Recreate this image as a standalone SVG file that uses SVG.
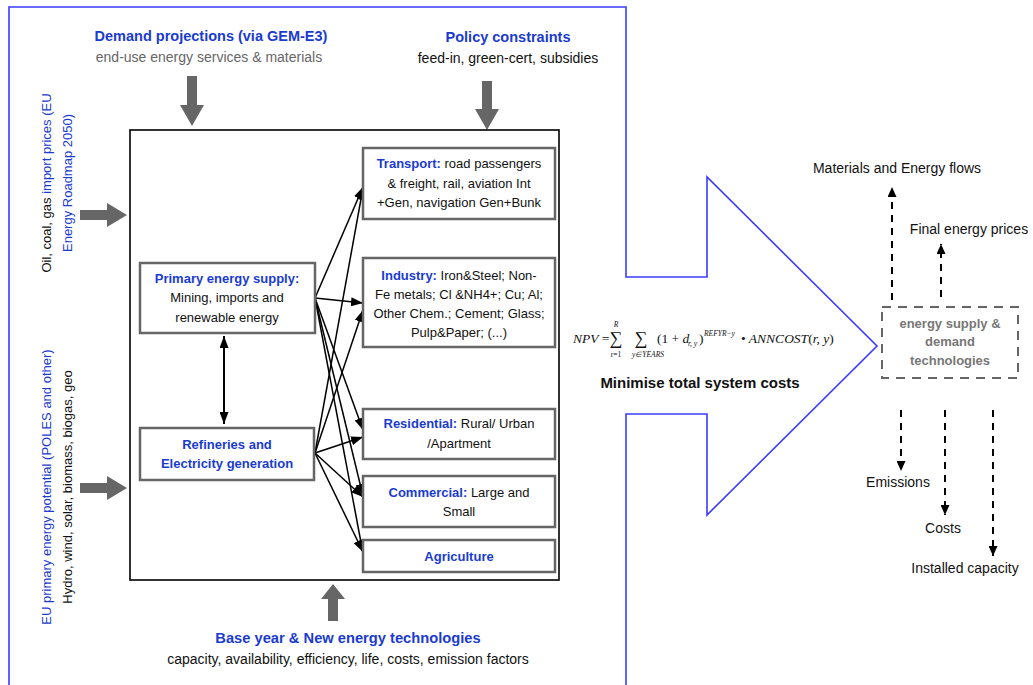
<svg xmlns="http://www.w3.org/2000/svg" width="1033" height="685" viewBox="0 0 1033 685">
<style>
text{font-family:"Liberation Sans",Arial,sans-serif;fill:#111}
.b{font-weight:bold;fill:#1a3bd0}
.t{font-size:13px;text-anchor:middle}
.box{fill:#fff;stroke:#666;stroke-width:2.5}
.ga{fill:#666}
.con{stroke:#000;stroke-width:1.5;fill:none;marker-end:url(#ah)}
.dash{stroke:#000;stroke-width:2;fill:none;stroke-dasharray:7 6;marker-end:url(#dh)}
.m{font-family:"Liberation Serif","Times New Roman",serif;font-style:italic;font-size:13.5px}
.ms{font-family:"Liberation Serif","Times New Roman",serif;font-style:italic;font-size:7.5px}
.sig{font-family:"Liberation Serif","Times New Roman",serif;font-size:18px;text-anchor:middle}
</style>
<defs>
<marker id="ah" markerWidth="12" markerHeight="9" refX="12" refY="4.5" orient="auto" markerUnits="userSpaceOnUse"><path d="M0,0 L12,4.5 L0,9 Z" fill="#000"/></marker>
<marker id="ahs" markerWidth="12" markerHeight="9" refX="0" refY="4.5" orient="auto" markerUnits="userSpaceOnUse"><path d="M12,0 L0,4.5 L12,9 Z" fill="#000"/></marker>
<marker id="dh" markerWidth="10" markerHeight="9" refX="10" refY="4.5" orient="auto" markerUnits="userSpaceOnUse"><path d="M0,0 L10,4.5 L0,9 Z" fill="#000"/></marker>
</defs>

<g id="frame">
<path d="M9,700 L9,7 L626,7 L626,277 L707,277 L707,177 L877,346 L707,515 L707,414 L626,414 L626,700" fill="none" stroke="#3b3bff" stroke-width="1.6"/>
</g>

<g id="inputs">
<text x="211" y="41" class="b" style="font-size:14.5px;text-anchor:middle">Demand projections (via GEM-E3)</text>
<text x="209" y="62" style="font-size:14px;text-anchor:middle;fill:#666">end-use energy services &amp; materials</text>
<text x="508" y="42" class="b" style="font-size:14.5px;text-anchor:middle">Policy constraints</text>
<text x="508" y="63" style="font-size:14px;text-anchor:middle">feed-in, green-cert, subsidies</text>
<text transform="translate(51,183) rotate(-90)" style="font-size:13px;text-anchor:middle">Oil, coal, gas <tspan style="fill:#1a3bd0">import prices (EU</tspan></text>
<text transform="translate(72,183) rotate(-90)" style="font-size:13px;text-anchor:middle;fill:#1a3bd0">Energy Roadmap 2050)</text>
<text transform="translate(51,487) rotate(-90)" style="font-size:13px;text-anchor:middle;fill:#1a3bd0">EU primary energy potential (POLES and other)</text>
<text transform="translate(72,487) rotate(-90)" style="font-size:13px;text-anchor:middle">Hydro, wind, solar, biomass, biogas, geo</text>
<text x="348" y="643" class="b" style="font-size:14.7px;text-anchor:middle">Base year &amp; New energy technologies</text>
<text x="348" y="664" style="font-size:14px;text-anchor:middle">capacity, availability, efficiency, life, costs, emission factors</text>
</g>

<g id="block-arrows">
<path class="ga" d="M187,76 L197,76 L197,105 L204,105 L192,126 L180,105 L187,105 Z"/>
<path class="ga" d="M482,81 L492,81 L492,109 L499,109 L487,130 L475,109 L482,109 Z"/>
<path class="ga" d="M80,210 L107,210 L107,203 L127,215 L107,227 L107,220 L80,220 Z"/>
<path class="ga" d="M80,483 L107,483 L107,476 L127,488 L107,500 L107,493 L80,493 Z"/>
<path class="ga" d="M328,621 L338,621 L338,599 L345,599 L333,584 L321,599 L328,599 Z"/>
</g>

<g id="model-box"><rect x="130" y="130" width="429" height="450" fill="#fff" stroke="#000" stroke-width="1.6"/></g>

<g id="connectors">
<path class="con" d="M315,298 L363,187"/>
<path class="con" d="M315,298 L363,303"/>
<path class="con" d="M315,298 L363,430"/>
<path class="con" d="M315,298 L363,496"/>
<path class="con" d="M315,298 L363,553"/>
<path class="con" d="M315,453 L363,188"/>
<path class="con" d="M315,453 L363,310"/>
<path class="con" d="M315,453 L363,437"/>
<path class="con" d="M315,453 L363,497"/>
<path class="con" d="M315,453 L363,552"/>
<path d="M224,336 L224,424" stroke="#000" stroke-width="2" fill="none" marker-start="url(#ahs)" marker-end="url(#ah)"/>
</g>

<g id="transport"><rect class="box" x="363" y="148" width="192" height="71"/>
<text class="t" x="459" y="168"><tspan class="b">Transport:</tspan> road passengers</text>
<text class="t" x="459" y="188">&amp; freight, rail, aviation Int</text>
<text class="t" x="459" y="207">+Gen, navigation Gen+Bunk</text></g>

<g id="industry"><rect class="box" x="363" y="258" width="192" height="89"/>
<text class="t" x="459" y="280"><tspan class="b">Industry:</tspan> Iron&amp;Steel; Non-</text>
<text class="t" x="459" y="299">Fe metals; Cl &amp;NH4+;  Cu; Al;</text>
<text class="t" x="459" y="318">Other  Chem.; Cement; Glass;</text>
<text class="t" x="459" y="337">Pulp&amp;Paper;  (...)</text></g>

<g id="primary"><rect class="box" x="140" y="263" width="175" height="70"/>
<text class="t b" x="227" y="283">Primary energy supply:</text>
<text class="t" x="227" y="302">Mining, imports and</text>
<text class="t" x="227" y="322">renewable energy</text></g>

<g id="refineries"><rect class="box" x="140" y="428" width="174" height="52"/>
<text class="t b" x="227" y="449">Refineries and</text>
<text class="t b" x="227" y="468">Electricity generation</text></g>

<g id="residential"><rect class="box" x="363" y="409" width="192" height="50"/>
<text class="t" x="459" y="428"><tspan class="b">Residential:</tspan> Rural/ Urban</text>
<text class="t" x="459" y="448">/Apartment</text></g>

<g id="commercial"><rect class="box" x="363" y="476" width="192" height="51"/>
<text class="t" x="459" y="497"><tspan class="b">Commercial:</tspan> Large and</text>
<text class="t" x="459" y="516">Small</text></g>

<g id="agriculture"><rect class="box" x="363" y="540" width="192" height="32"/>
<text class="t b" x="459" y="561">Agriculture</text></g>

<g id="objective">
<text class="m" x="573" y="343">NPV <tspan style="font-style:normal">=</tspan></text>
<text class="sig" x="616" y="344">∑</text>
<text class="ms" x="616" y="327" style="text-anchor:middle">R</text>
<text class="ms" x="616" y="357" style="text-anchor:middle;font-style:normal">r=1</text>
<text class="sig" x="641" y="344">∑</text>
<text class="ms" x="648" y="357" style="text-anchor:middle">y∈YEARS</text>
<text class="m" x="657" y="343"><tspan style="font-style:normal">(1 + </tspan>d</text>
<text class="ms" x="688" y="346">r, y</text>
<text class="m" x="699" y="343"><tspan style="font-style:normal">)</tspan></text>
<text class="ms" x="704" y="336">REFYR−y</text>
<text class="m" x="741" y="343"><tspan style="font-style:normal">•</tspan> ANNCOST<tspan style="font-style:normal">(</tspan>r, y<tspan style="font-style:normal">)</tspan></text>
<text x="700" y="388" style="font-size:15px;font-weight:bold;text-anchor:middle">Minimise total system costs</text>
</g>

<g id="technologies"><rect x="882" y="307" width="136" height="71" fill="#fff" stroke="#666" stroke-width="2" stroke-dasharray="9 7"/>
<text x="950" y="328" style="font-size:13px;font-weight:bold;fill:#777;text-anchor:middle">energy supply &amp;</text>
<text x="950" y="346" style="font-size:13px;font-weight:bold;fill:#777;text-anchor:middle">demand</text>
<text x="950" y="365" style="font-size:13px;font-weight:bold;fill:#777;text-anchor:middle">technologies</text></g>

<g id="outputs">
<path class="dash" d="M892,300 L892,187"/>
<path class="dash" d="M941,297 L941,244"/>
<path class="dash" d="M901,410 L901,471"/>
<path class="dash" d="M945,410 L945,515"/>
<path class="dash" d="M993,410 L993,556"/>
<text x="897" y="173" style="font-size:14px;text-anchor:middle">Materials and Energy flows</text>
<text x="969" y="234" style="font-size:14px;text-anchor:middle">Final energy prices</text>
<text x="898" y="487" style="font-size:14px;text-anchor:middle">Emissions</text>
<text x="943" y="533" style="font-size:14px;text-anchor:middle">Costs</text>
<text x="965" y="573" style="font-size:14px;text-anchor:middle">Installed capacity</text>
</g>
</svg>
